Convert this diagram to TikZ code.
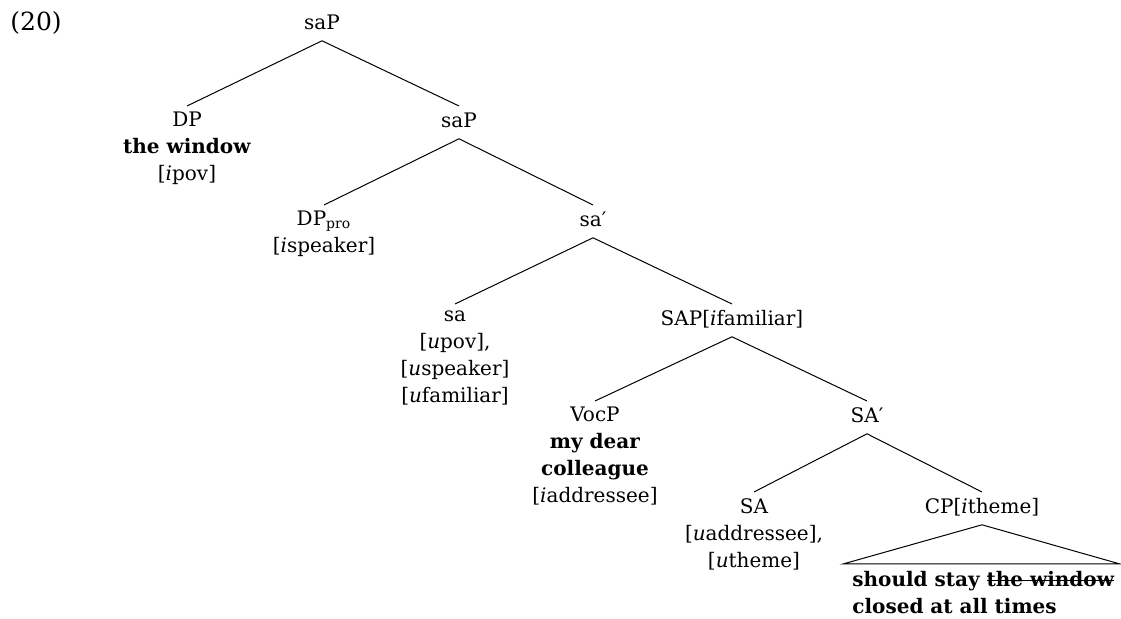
\documentclass[tikz,border=0pt]{standalone}
\usepackage{fontspec}
\setmainfont{DejaVu Serif}
\usepackage{tikz}
\newcommand\ftr[2]{[\textit{#1}#2]}
\newsavebox\strkbox
\newcommand\strk[1]{\sbox\strkbox{#1}\rlap{\vrule height 0.33em depth -0.27em width \wd\strkbox}\usebox\strkbox}
\tikzset{
  branch/.style={line width=0.5pt, draw=black},
  cat/.style={anchor=north, inner sep=3pt, text height=7.5pt, text depth=2.5pt,
    font=\fontsize{10}{13.5}\selectfont},
  leaf/.style={anchor=north, inner sep=3pt, align=center,
    font=\fontsize{10}{13.5}\selectfont, execute at begin node={\rule{0pt}{7.5pt}}},
  words/.style={anchor=north west, inner sep=3pt, align=left,
    font=\fontsize{10}{13.5}\selectfont\bfseries, execute at begin node={\rule{0pt}{7.5pt}}},
}

\begin{document}
\begin{tikzpicture}[x=0.5pt, y=-0.5pt]
  \useasboundingbox (0,0) rectangle (1121,619);

  \node[anchor=base west, inner sep=0pt, font=\fontsize{12.5}{15}\selectfont] (ex) at (10,31) {(20)};

  \node[cat] (sap) at (322,8) {saP};                 % root
  \node[leaf] (dp) at (187,106) {DP\\\textbf{the window}\\\ftr{i}{pov}};
  \node[cat] (sapb) at (459,106) {saP};
  \node[leaf] (dppro) at (324,205) {DP\textsubscript{pro}\\\ftr{i}{speaker}};
  \node[cat] (sabar) at (593,205) {sa′};
  \node[leaf] (sa) at (455,304) {sa\\\ftr{u}{pov},\\\ftr{u}{speaker}\\\ftr{u}{familiar}};
  \node[cat] (sapf) at (732,304) {SAP\ftr{i}{familiar}};
  \node[leaf] (vocp) at (595,401) {VocP\\\textbf{my dear}\\\textbf{colleague}\\\ftr{i}{addressee}};
  \node[cat] (sabarb) at (867,401) {SA′};
  \node[leaf] (sah) at (754,492) {SA\\\ftr{u}{addressee},\\\ftr{u}{theme}};
  \node[cat] (cp) at (982,492) {CP\ftr{i}{theme}};

  \coordinate (tl) at (843,564);  % triangle left
  \coordinate (tr) at (1120,564); % triangle right
  \node[words] (clause) at (846,565) {should stay \strk{the window}\\closed at all times};

  \draw[branch] (sap.south) -- (dp.north);
  \draw[branch] (sap.south) -- (sapb.north);
  \draw[branch] (sapb.south) -- (dppro.north);
  \draw[branch] (sapb.south) -- (sabar.north);
  \draw[branch] (sabar.south) -- (sa.north);
  \draw[branch] (sabar.south) -- (sapf.north);
  \draw[branch] (sapf.south) -- (vocp.north);
  \draw[branch] (sapf.south) -- (sabarb.north);
  \draw[branch] (sabarb.south) -- (sah.north);
  \draw[branch] (sabarb.south) -- (cp.north);

  \draw[branch] (cp.south) -- (tl) -- (tr) -- cycle;
\end{tikzpicture}
\end{document}
